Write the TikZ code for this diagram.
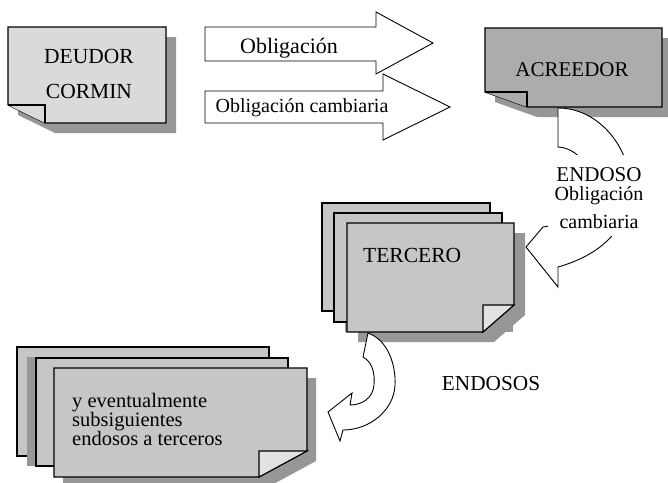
\documentclass[tikz,border=0pt]{standalone}
\usepackage{fontspec}
\setmainfont{Liberation Serif}
\definecolor{shad}{HTML}{979797}
\definecolor{lightbox}{HTML}{DADADA}
\definecolor{darkbox}{HTML}{ACACAC}
\definecolor{sheet}{HTML}{C6C6C6}
\definecolor{foldc}{HTML}{E2E2E2}
\tikzset{
  boxline/.style={draw=black, line width=1.1pt, line join=miter},
  shadowfill/.style={fill=shad, draw=none},
  blockarrow/.style={draw=black, fill=white, line width=0.9pt, line join=miter},
  lbl/.style={font=\fontsize{21.5}{24}\selectfont, inner sep=0pt},
  lbls/.style={font=\fontsize{20.5}{18}\selectfont, inner sep=0pt},
}
\begin{document}
\begin{tikzpicture}[x=1pt,y=-1pt]
\clip (0,0) rectangle (668,482);
\fill[white] (0,0) rectangle (668,482);

% ---------- DEUDOR ----------
\fill[shadowfill] (18,37) -- (176,37) -- (176,133) -- (55,133) -- (18,115) -- cycle;
\path[boxline, fill=lightbox] (8,27) -- (166,27) -- (166,123) -- (45,123) -- (8,105) -- cycle;
\path[boxline, fill=lightbox] (8,105) -- (45,105) -- (45,123);
\node[lbl, anchor=base] (deudor) at (89,63) {DEUDOR};
\node[lbl, anchor=base] (cormin) at (89,98) {CORMIN};

% ---------- straight block arrows ----------
\path[blockarrow] (205,27) -- (376,27) -- (376,12) -- (433,43) -- (376,74) -- (376,61) -- (205,61) -- cycle;
\node[lbl, font=\fontsize{22}{24}\selectfont, anchor=base] (oblig) at (289,53) {Obligación};
\path[blockarrow] (205,91) -- (383,91) -- (383,74) -- (450,107) -- (383,140) -- (383,123) -- (205,123) -- cycle;
\node[lbls, font=\fontsize{20}{22}\selectfont, anchor=base] (obligc) at (302,112) {Obligación cambiaria};

% ---------- ACREEDOR ----------
\fill[shadowfill] (495,38) -- (672,38) -- (672,117) -- (537,117) -- (495,102) -- cycle;
\path[boxline, fill=darkbox] (485,28) -- (662,28) -- (662,107) -- (527,107) -- (485,92) -- cycle;
\path[boxline, fill=darkbox] (485,92) -- (527,92) -- (527,107);
\node[lbl, font=\fontsize{21}{24}\selectfont, anchor=base] (acreedor) at (572,76) {ACREEDOR};

% ---------- curved arrow ACREEDOR -> TERCERO ----------
\path[blockarrow] (558,108) -- (558,147)
  .. controls (600,150) and (600,220) .. (543,227)
  -- (526,247) -- (558,287) -- (558,267)
  .. controls (600,255) and (628,230) .. (630,190)
  .. controls (632,150) and (600,108) .. (558,108) -- cycle;
\fill[white] (548,155) rectangle (650,236);
\node[lbl, font=\fontsize{21}{24}\selectfont, anchor=base] (endoso) at (599,181) {ENDOSO};
\node[lbls, font=\fontsize{20}{22}\selectfont, anchor=base] (endoblig) at (599,200) {Obligación};
\node[lbls, font=\fontsize{20}{22}\selectfont, anchor=base] (endocamb) at (599,228) {cambiaria};

% ---------- TERCERO stack ----------
\path[boxline, fill=sheet] (322,203) rectangle (490,311);
\fill[shadowfill] (345,223) rectangle (513,332);
\path[boxline, fill=sheet] (334,213) rectangle (502,322);
\fill[shadowfill] (358,233) -- (525,233) -- (525,315) -- (494,342) -- (358,342) -- cycle;
\path[boxline, fill=sheet] (347,223) -- (514,223) -- (514,305) -- (483,332) -- (347,332) -- cycle;
\path[boxline, fill=foldc] (514,305) -- (483,305) -- (483,332) -- cycle;
\node[lbl, anchor=base west] (tercero) at (363,262) {TERCERO};

% ---------- curved arrow TERCERO -> terceros ----------
\path[blockarrow] (368,333) -- (363,357)
  .. controls (372,362) and (375,372) .. (374,385)
  .. controls (373,398) and (362,405) .. (350,405)
  -- (352,393) -- (328,412) -- (340,441) -- (343,430)
  .. controls (370,430) and (394,410) .. (395,385)
  .. controls (396,365) and (388,340) .. (368,333) -- cycle;
\node[lbl, font=\fontsize{21.3}{24}\selectfont, anchor=base] (endosos) at (491,390) {ENDOSOS};

% ---------- bottom stack ----------
\path[boxline, fill=sheet] (17,347) rectangle (269,456);
\fill[shadowfill] (27,357) rectangle (279,466);
\path[boxline, fill=sheet] (36,358) rectangle (288,466);
\fill[shadowfill] (63,378) -- (316,378) -- (316,461) -- (268,487) -- (63,487) -- cycle;
\path[boxline, fill=sheet] (54,368) -- (307,368) -- (307,451) -- (259,477) -- (54,477) -- cycle;
\path[boxline, fill=foldc] (307,451) -- (259,451) -- (259,477) -- cycle;
\node[lbls, anchor=base west] (linea) at (72,407) {y eventualmente};
\node[lbls, anchor=base west] (lineb) at (72,426) {subsiguientes};
\node[lbls, anchor=base west] (linec) at (72,445) {endosos a terceros};
\end{tikzpicture}
\end{document}
